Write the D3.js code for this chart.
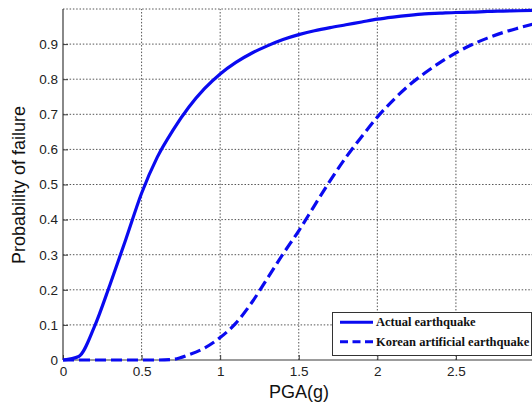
<!DOCTYPE html>
<html>
<head>
<meta charset="utf-8">
<script src="https://cdn.jsdelivr.net/npm/d3@7"></script>
<style>
  html, body { margin: 0; padding: 0; background: #fff; }
  svg { display: block; }
</style>
</head>
<body>
<svg id="chart" width="532" height="406"></svg>
<script>
// PGA levels (g)
const pga = [0, 0.1, 0.2, 0.3, 0.4, 0.5, 0.6, 0.7, 0.8, 0.9, 1.0,
             1.1, 1.2, 1.3, 1.4, 1.5, 1.6, 1.7, 1.8, 1.9, 2.0,
             2.1, 2.2, 2.3, 2.4, 2.5, 2.6, 2.7, 2.8, 2.9, 3.0];

// Fragility curve from recorded ground motions
const actualProb = [0, 0.01, 0.095, 0.216, 0.344, 0.475, 0.578, 0.655, 0.72, 0.773, 0.815,
                    0.848, 0.874, 0.895, 0.913, 0.927, 0.938, 0.947, 0.955, 0.963, 0.971,
                    0.977, 0.982, 0.986, 0.988, 0.990, 0.991, 0.993, 0.994, 0.995, 0.996];

// Fragility curve from Korean artificial ground motions
const koreanProb = [0, 0, 0, 0, 0, 0, 0, 0.002, 0.015, 0.034, 0.064,
                    0.105, 0.163, 0.232, 0.302, 0.368, 0.44, 0.511, 0.577, 0.636, 0.692,
                    0.740, 0.782, 0.817, 0.848, 0.875, 0.898, 0.917, 0.933, 0.946, 0.958];

const seriesNames = ["Actual earthquake", "Korean artificial earthquake"];

const xTicks = [0, 0.5, 1, 1.5, 2, 2.5];
const xTickLabels = ["0", "0.5", "1", "1.5", "2", "2.5"];
const yTicks = [0, 0.1, 0.2, 0.3, 0.4, 0.5, 0.6, 0.7, 0.8, 0.9];
const yTickLabels = ["0", "0.1", "0.2", "0.3", "0.4", "0.5", "0.6", "0.7", "0.8", "0.9"];
const xGrid = [0.5, 1, 1.5, 2, 2.5];
const yGrid = [0.1, 0.2, 0.3, 0.4, 0.5, 0.6, 0.7, 0.8, 0.9, 1.0];

const svg = d3.select("#chart");
const W = 532;
const plotLeft = 63, plotBottom = 360, plotTop = 9, plotRight = 534.5;

const x = d3.scaleLinear().domain([0, 3]).range([plotLeft, plotRight]);
const y = d3.scaleLinear().domain([0, 1]).range([plotBottom, plotTop]);

const blue = "#0a0af0";
const axisColor = "#3a3a3a";
const sans = "Liberation Sans, Arial, sans-serif";

// dotted grid
const grid = svg.append("g");
grid.selectAll("line.gx").data(xGrid).join("line")
  .attr("x1", d => x(d)).attr("x2", d => x(d))
  .attr("y1", y(0)).attr("y2", y(1))
  .attr("stroke", "#555").attr("stroke-width", 1)
  .attr("stroke-dasharray", "1.5,1.8");
grid.selectAll("line.gy").data(yGrid).join("line")
  .attr("x1", x(0)).attr("x2", W)
  .attr("y1", d => y(d)).attr("y2", d => y(d))
  .attr("stroke", "#555").attr("stroke-width", 1)
  .attr("stroke-dasharray", "1.5,1.8");

// axes with inward ticks
const xAxis = d3.axisBottom(x).tickValues(xTicks)
  .tickFormat((d, i) => xTickLabels[i]).tickSizeInner(-5).tickSizeOuter(0).tickPadding(10);
const yAxis = d3.axisLeft(y).tickValues(yTicks)
  .tickFormat((d, i) => yTickLabels[i]).tickSizeInner(-5).tickSizeOuter(0).tickPadding(10);

const gx = svg.append("g").attr("transform", `translate(0,${plotBottom})`).call(xAxis);
const gy = svg.append("g").attr("transform", `translate(${plotLeft},0)`).call(yAxis);
[gx, gy].forEach(g => {
  g.select(".domain").remove();
  g.selectAll(".tick line").attr("stroke", axisColor);
  g.selectAll(".tick text").attr("fill", "#222")
    .style("font-family", sans).style("font-size", "13.5px");
});
gx.selectAll(".tick text").attr("dy", "0.75em").attr("y", 6);
gy.selectAll(".tick text").attr("x", -5);

svg.append("line").attr("x1", plotLeft).attr("x2", plotLeft)
  .attr("y1", y(1)).attr("y2", y(0))
  .attr("stroke", axisColor).attr("stroke-width", 1.2);
svg.append("line").attr("x1", plotLeft).attr("x2", W)
  .attr("y1", y(0)).attr("y2", y(0))
  .attr("stroke", axisColor).attr("stroke-width", 1.2);

// curves
const line = d3.line().x(d => x(d[0])).y(d => y(d[1])).curve(d3.curveMonotoneX);
svg.append("path")
  .attr("d", line(pga.map((v, i) => [v, koreanProb[i]])))
  .attr("fill", "none").attr("stroke", blue).attr("stroke-width", 3.2)
  .attr("stroke-dasharray", "11,5");
svg.append("path")
  .attr("d", line(pga.map((v, i) => [v, actualProb[i]])))
  .attr("fill", "none").attr("stroke", blue).attr("stroke-width", 3.2)
  .attr("stroke-linejoin", "round");

// axis titles
svg.append("text")
  .attr("x", 299).attr("y", 398)
  .attr("text-anchor", "middle")
  .style("font-family", sans).style("font-size", "18px").attr("fill", "#111")
  .text("PGA(g)");
svg.append("text")
  .attr("transform", "translate(25,185) rotate(-90)")
  .attr("text-anchor", "middle")
  .style("font-family", sans).style("font-size", "18px").attr("fill", "#111")
  .text("Probability of failure");

// legend
const lg = svg.append("g");
lg.append("rect").attr("x", 332.5).attr("y", 312.5).attr("width", 199).attr("height", 43)
  .attr("fill", "#fff").attr("stroke", "#333").attr("stroke-width", 1);
const dashes = [null, "8,4.5"];
const rowY = [322.3, 341.7];
seriesNames.forEach((name, i) => {
  lg.append("line").attr("x1", 340).attr("x2", 373)
    .attr("y1", rowY[i]).attr("y2", rowY[i])
    .attr("stroke", blue).attr("stroke-width", 3)
    .attr("stroke-dasharray", dashes[i]);
  lg.append("text").attr("x", 376).attr("y", rowY[i] + 4)
    .style("font-family", "Liberation Serif, Times New Roman, serif")
    .style("font-weight", "bold").style("font-size", "12.5px").attr("fill", "#111")
    .text(name);
});
</script>
</body>
</html>
